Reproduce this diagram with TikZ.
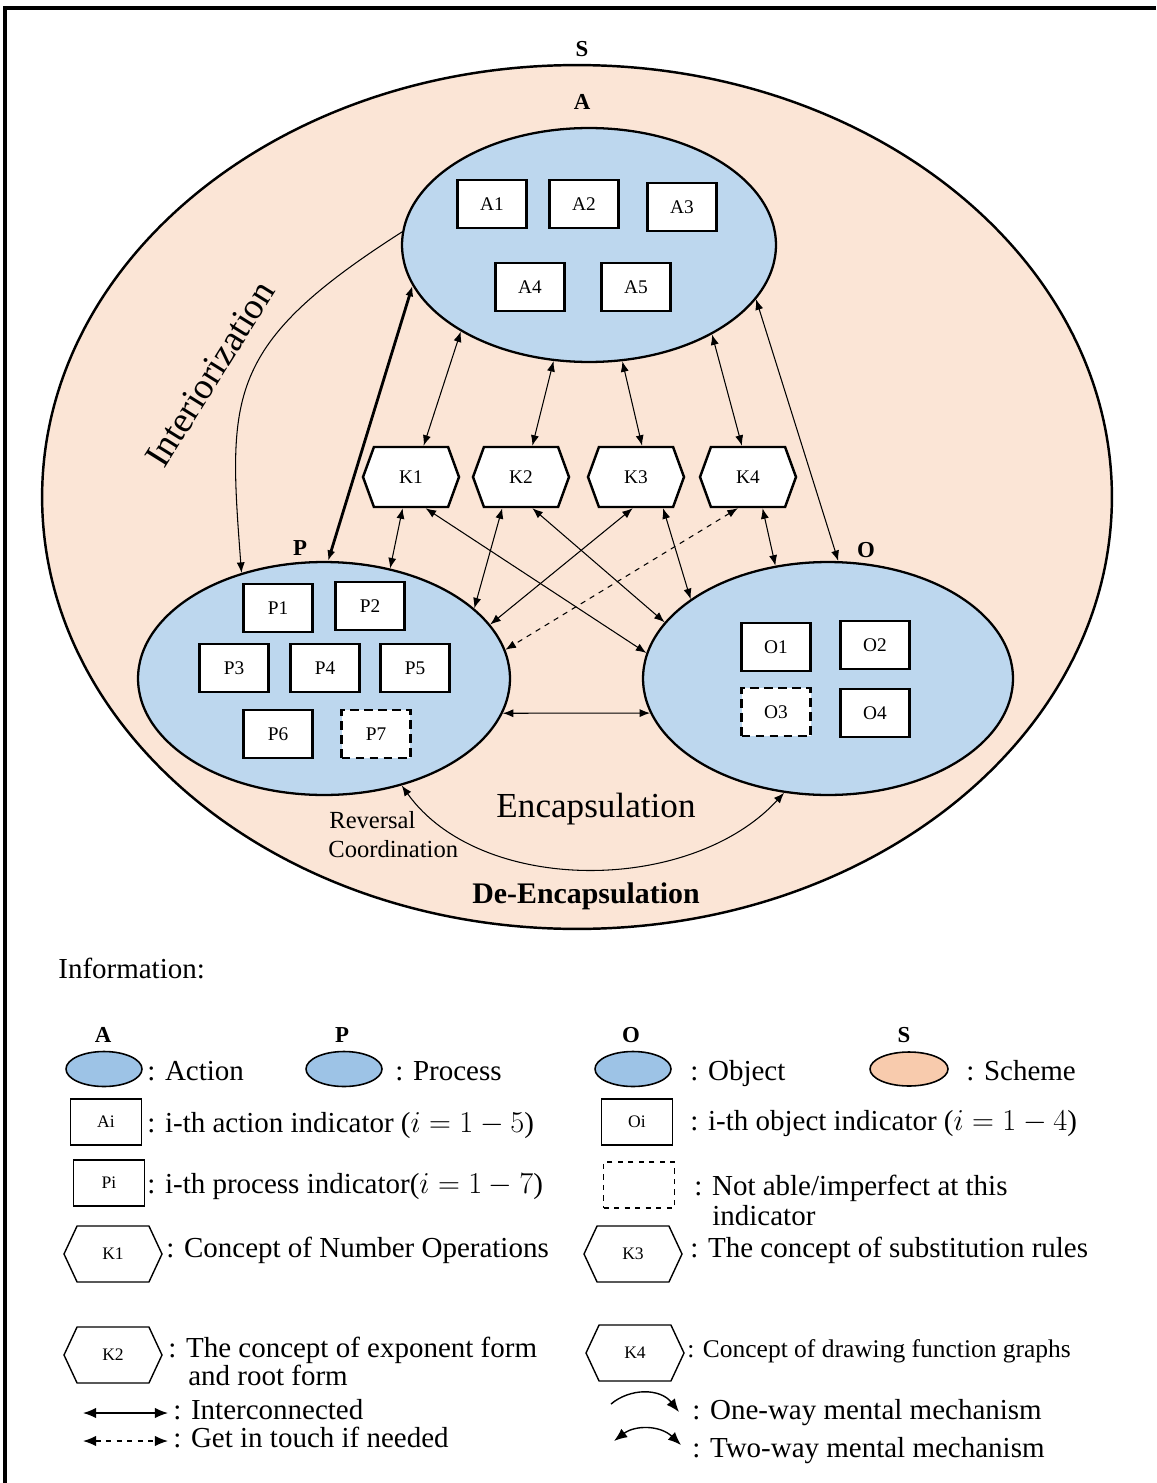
\documentclass[tikz,border=0pt]{standalone}
\usepackage{fontspec}
\setmainfont{Liberation Serif}
\usepackage{amsmath}
\usepackage{xcolor}
\usepackage{tikz}
\usetikzlibrary{shapes.geometric, shapes.symbols, arrows.meta, positioning}

\definecolor{schemefill}{RGB}{251,229,214}
\definecolor{apofill}{RGB}{189,215,238}
\definecolor{legblue}{RGB}{157,195,230}
\definecolor{legpeach}{RGB}{248,203,173}

\begin{document}
\begin{tikzpicture}[x=0.02cm, y=-0.02cm,
    >={Latex[length=6pt,width=4.6pt]},
    stage/.style={ellipse, draw, line width=1.3pt, fill=apofill, inner sep=0pt},
    ind/.style={draw, line width=1.6pt, fill=white, inner sep=0pt,
        minimum width=1.38cm, minimum height=0.96cm, font=\fontsize{11}{13}\selectfont},
    indmiss/.style={ind, dash pattern=on 5pt off 3pt},
    konsep/.style={signal, signal to=east and west, signal pointer angle=140,
        draw, line width=1.4pt, fill=white, inner sep=0pt,
        minimum width=1.92cm, minimum height=1.2cm, font=\fontsize{11}{13}\selectfont},
    link/.style={<->, line width=0.6pt},
    leglink/.style={line width=0.8pt, >={Latex[length=7.5pt,width=6pt]}},
    biglbl/.style={font=\bfseries\fontsize{13}{15}\selectfont, inner sep=0pt, anchor=base},
    legtxt/.style={anchor=base west, inner sep=0pt, font=\fontsize{16.5}{19}\selectfont},
    legbox/.style={draw, line width=0.8pt, inner sep=0pt,
        minimum width=1.42cm, minimum height=0.92cm, font=\fontsize{10}{12}\selectfont},
    leghex/.style={konsep, line width=0.8pt, signal pointer angle=130,
        minimum width=1.96cm, minimum height=1.12cm, font=\fontsize{10}{12}\selectfont}
  ]

    % =================================================================
    % 1. KHUNG HINH
    % =================================================================
    \useasboundingbox (0,0) rectangle (1156,1483);
    \draw[line width=2pt, line join=miter] (1156,8) -- (5,8) -- (5,1483);

    % =================================================================
    % 2. SCHEME VA BA ELIP A, P, O
    % =================================================================
    \node[stage, fill=schemefill, line width=1.4pt,
          minimum width=21.4cm, minimum height=17.28cm] (S) at (577,497) {};
    \node[stage, minimum width=7.48cm, minimum height=4.68cm] (A) at (589,245) {};
    \node[stage, minimum width=7.44cm, minimum height=4.66cm] (P) at (324,678.5) {};
    \node[stage, minimum width=7.4cm, minimum height=4.66cm] (O) at (828,678.5) {};

    \node[biglbl] (lS) at (582,57) {S};
    \node[biglbl] (lA) at (582,110) {A};
    \node[biglbl] (lP) at (300,555) {P};
    \node[biglbl] (lO) at (866,557) {O};

    % =================================================================
    % 3. CAC CHI BAO TRONG A, P, O
    % =================================================================
    \node[ind] (A1) at (492,204) {A1};
    \node[ind] (A2) at (584,204) {A2};
    \node[ind] (A3) at (682,207) {A3};
    \node[ind] (A4) at (530,287) {A4};
    \node[ind] (A5) at (636,287) {A5};

    \node[ind] (P1) at (278,608) {P1};
    \node[ind] (P2) at (370,606) {P2};
    \node[ind] (P3) at (234,668) {P3};
    \node[ind] (P4) at (325,668) {P4};
    \node[ind] (P5) at (415,668) {P5};
    \node[ind] (P6) at (278,734) {P6};
    \node[indmiss] (P7) at (376,734) {P7};

    \node[ind] (O1) at (776,647) {O1};
    \node[ind] (O2) at (875,645) {O2};
    \node[indmiss] (O3) at (776,712) {O3};
    \node[ind] (O4) at (875,713) {O4};

    % =================================================================
    % 4. CAC KHAI NIEM K1 - K4
    % =================================================================
    \node[konsep] (K1) at (411,477) {K1};
    \node[konsep] (K2) at (521,477) {K2};
    \node[konsep] (K3) at (636,477) {K3};
    \node[konsep] (K4) at (748,477) {K4};

    % =================================================================
    % 5. MUI TEN LIEN KET
    % =================================================================
    % Interiorization (mot chieu)
    \draw[->, line width=0.6pt] (A.176) .. controls (225,345) and (228,395) .. (P.128);
    % P <-> A (net dam)
    \draw[<->, line width=1.6pt] (P.88) -- (A.193);

    \draw[link] (A.214) -- (K1.68);
    \draw[link] (A.253) -- (K2.70);
    \draw[link] (A.286) -- (K3.79);
    \draw[link] (A.324) -- (K4.101);
    \draw[link] (A.342) -- (O.85);

    \draw[link] (K1.255) -- (P.59);
    \draw[link] (K1.295) -- (O.172);
    \draw[link] (K2.239) -- (P.25);
    \draw[link] (K2.290) -- (O.161);
    \draw[link] (K3.264) -- (P.18);
    \draw[link] (K3.311) -- (O.150);
    \draw[link, dashed] (K4.252) -- (P.9);
    \draw[link] (K4.295) -- (O.115);
    \draw[link] (P.349) -- (O.191);

    % Encapsulation / De-Encapsulation
    \draw[link] (P.306) .. controls (480,895) and (690,895) .. (O.249);

    % =================================================================
    % 6. NHAN CO CHE
    % =================================================================
    \node[rotate=58, font=\fontsize{21}{24}\selectfont] (lInt) at (210,374) {Interiorization};
    \node[anchor=base, inner sep=0pt, font=\fontsize{20}{24}\selectfont] (lEnc) at (596,817) {Encapsulation};
    \node[anchor=base, inner sep=0pt, font=\bfseries\fontsize{17}{20}\selectfont] (lDe) at (586,903) {De-Encapsulation};
    \node[anchor=base west, inner sep=0pt, font=\fontsize{14}{16}\selectfont] (lRev) at (329,828) {Reversal};
    \node[anchor=base west, inner sep=0pt, font=\fontsize{14}{16}\selectfont] (lCoo) at (328,857) {Coordination};

    % =================================================================
    % 7. CHU THICH
    % =================================================================
    \node[legtxt] (info) at (58,978) {Information:};

    \node[stage, fill=legblue, line width=0.9pt, minimum width=1.52cm, minimum height=0.7cm] (legA) at (104,1069) {};
    \node[stage, fill=legblue, line width=0.9pt, minimum width=1.52cm, minimum height=0.7cm] (legP) at (344,1069) {};
    \node[stage, fill=legblue, line width=0.9pt, minimum width=1.52cm, minimum height=0.7cm] (legO) at (633,1069) {};
    \node[stage, fill=legpeach, line width=0.9pt, minimum width=1.56cm, minimum height=0.68cm] (legS) at (909,1069) {};
    \node[biglbl] (llA) at (103,1042) {A};
    \node[biglbl] (llP) at (342,1042) {P};
    \node[biglbl] (llO) at (631,1042) {O};
    \node[biglbl] (llS) at (904,1042) {S};
    \node[legtxt] at (147,1080) {: Action};
    \node[legtxt] at (395,1080) {: Process};
    \node[legtxt] at (690,1080) {: Object};
    \node[legtxt] at (966,1080) {: Scheme};

    \node[legbox] (legAi) at (106,1122) {Ai};
    \node[legbox] (legPi) at (109,1183) {Pi};
    \node[legbox] (legOi) at (637,1122) {Oi};
    \node[legbox, dashed] (legMiss) at (639,1185) {};
    \node[legtxt] at (147,1132) {: i-th action indicator ($i=1-5$)};
    \node[legtxt] at (147,1193) {: i-th process indicator($i=1-7$)};
    \node[legtxt] at (690,1130) {: i-th object indicator ($i=1-4$)};
    \node[legtxt] at (694,1195) {: Not able/imperfect at this};
    \node[legtxt] at (712,1225) {indicator};

    \node[leghex] (legK1) at (113,1254) {K1};
    \node[leghex] (legK2) at (113,1355) {K2};
    \node[leghex] (legK3) at (633,1254) {K3};
    \node[leghex] (legK4) at (635,1353) {K4};
    \node[legtxt] at (166,1257) {: Concept of Number Operations};
    \node[legtxt] at (168,1357) {: The concept of exponent form};
    \node[legtxt] at (188,1385) {and root form};
    \node[legtxt] at (690,1257) {: The concept of substitution rules};
    \node[legtxt, font=\fontsize{14.5}{17}\selectfont] at (687,1357) {: Concept of drawing function graphs};

    % Mau mui ten
    \coordinate (lnA) at (83,1413);
    \coordinate (lnB) at (168,1413);
    \coordinate (ldA) at (83,1441);
    \coordinate (ldB) at (168,1441);
    \coordinate (loA) at (611,1404);
    \coordinate (loB) at (679,1412);
    \coordinate (ltA) at (614,1441);
    \coordinate (ltB) at (681,1445);
    \draw[leglink, <->] (lnA) -- (lnB);
    \draw[leglink, <->, dashed] (ldA) -- (ldB);
    \draw[leglink, ->] (loA) .. controls (630,1388) and (660,1388) .. (loB);
    \draw[leglink, <->] (ltA) .. controls (635,1425) and (660,1425) .. (ltB);
    \node[legtxt] at (173,1419) {: Interconnected};
    \node[legtxt] at (173,1447) {: Get in touch if needed};
    \node[legtxt] at (692,1419) {: One-way mental mechanism};
    \node[legtxt] at (692,1457) {: Two-way mental mechanism};

\end{tikzpicture}
\end{document}
